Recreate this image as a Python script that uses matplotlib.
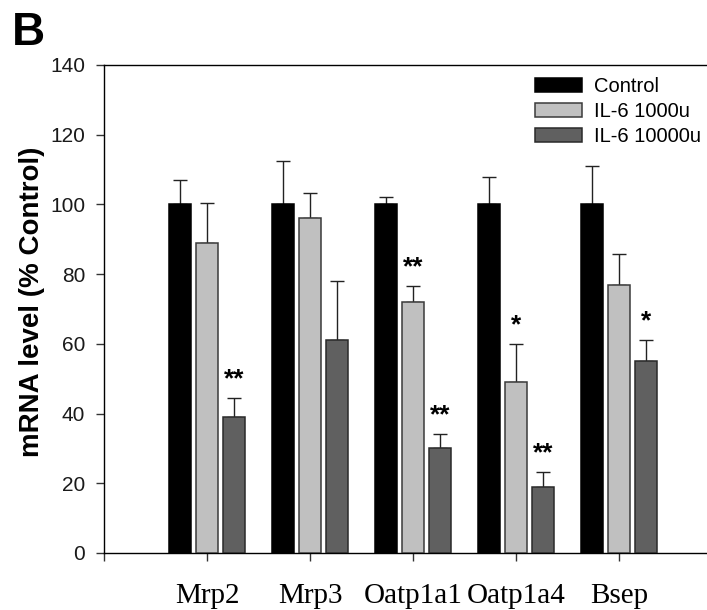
import numpy as np
import matplotlib
matplotlib.use("Agg")
import matplotlib.pyplot as plt

# Transporter mRNA expression after IL-6 treatment (% of control)
genes = ["Mrp2", "Mrp3", "Oatp1a1", "Oatp1a4", "Bsep"]
groups = ["Control", "IL-6 1000u", "IL-6 10000u"]

control_mean = [100, 100, 100, 100, 100]
control_err = [7, 12.5, 2, 7.8, 11]
il6_1000_mean = [89, 96, 72, 49, 77]
il6_1000_err = [11.4, 7.4, 4.7, 11, 8.9]
il6_10000_mean = [39, 61, 30, 19, 55]
il6_10000_err = [5.5, 17, 4.1, 4.2, 6]

# significance marks per group (empty string = not significant)
control_sig = ["", "", "", "", ""]
il6_1000_sig = ["", "", "**", "*", ""]
il6_10000_sig = ["**", "", "**", "**", "*"]

yticks = [0, 20, 40, 60, 80, 100, 120, 140]

means = [control_mean, il6_1000_mean, il6_10000_mean]
errs = [control_err, il6_1000_err, il6_10000_err]
sigs = [control_sig, il6_1000_sig, il6_10000_sig]
fills = ["#000000", "#c0c0c0", "#606060"]
edges = ["#000000", "#3a3a3a", "#2a2a2a"]

W, H = 707, 610
fig = plt.figure(figsize=(W / 100, H / 100), dpi=100)
# axes runs past the right edge of the canvas (x from 0 to 6)
ax = fig.add_axes([104 / W, 57 / H, 618 / W, 488 / H])

x = np.arange(1, len(genes) + 1)
step, width = 0.265, 0.21

for i, (m, e, s) in enumerate(zip(means, errs, sigs)):
    pos = x + (i - 1) * step
    ax.bar(pos, m, width=width, color=fills[i], edgecolor=edges[i],
           linewidth=1.1, label=groups[i], zorder=3)
    ax.errorbar(pos, m, yerr=[np.zeros(len(m)), e], fmt="none",
                ecolor="#222222", elinewidth=1.0, capsize=4.7,
                capthick=1.0, zorder=2)
    for px, mv, ev, mark in zip(pos, m, e, s):
        if mark:
            ax.annotate(mark, (px, mv + ev), xytext=(0, 8.5),
                        textcoords="offset points", ha="center",
                        va="baseline", fontsize=19, fontweight="bold",
                        family="Liberation Sans")

ax.set_xlim(0, 6)
ax.set_ylim(0, 140)
ax.set_yticks(yticks)
ax.set_yticklabels([str(v) for v in yticks], fontsize=15,
                   family="Liberation Sans", color="#1a1a1a")
ax.set_xticks(range(0, 7))
ax.set_xticklabels([""] + genes + [""], fontsize=21,
                   family="Liberation Serif", color="#000000")
ax.tick_params(axis="y", direction="out", length=6, width=1.0,
               color="#333333", pad=7.5)
ax.tick_params(axis="x", direction="out", length=6, width=1.0,
               color="#333333", pad=15.5)
for side in ["left", "top", "bottom"]:
    ax.spines[side].set_linewidth(1.0)
    ax.spines[side].set_color("#000000")
ax.spines["right"].set_visible(False)

fig.text(32 / W, 1 - 302 / H, "mRNA level (% Control)", rotation=90,
         ha="center", va="center", fontsize=20, fontweight="bold",
         family="Liberation Sans")
fig.text(11.5 / W, 1 - 45 / H, "B", ha="left", va="baseline",
         fontsize=33, fontweight="bold", family="Liberation Sans")

ax.legend(loc="upper left", bbox_to_anchor=(535 / W, 1 - 77 / H),
          bbox_transform=fig.transFigure, frameon=False, borderpad=0,
          borderaxespad=0, handlelength=2.34, handleheight=0.75,
          handletextpad=0.6, labelspacing=0.3,
          prop={"family": "Liberation Sans", "size": 14.5})

fig.savefig("out.png", dpi=100)
